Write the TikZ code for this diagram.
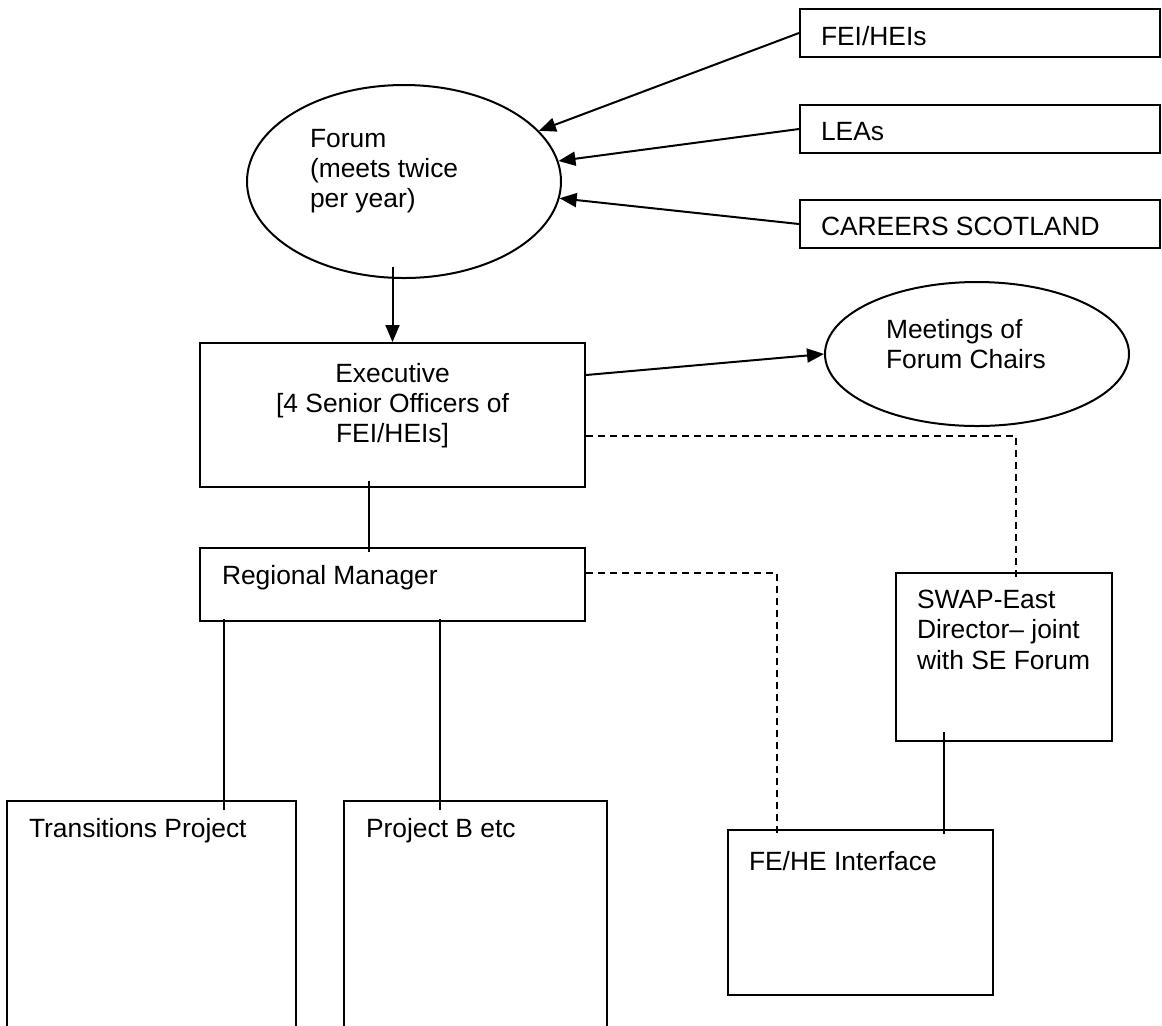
\documentclass[tikz,border=0pt]{standalone}
\usepackage{fontspec}
\setmainfont{Liberation Sans}
\usetikzlibrary{arrows.meta,calc,shapes.geometric}
\begin{document}
\begin{tikzpicture}[x=0.5pt, y=-0.5pt, line width=1pt,
    font=\fontsize{13.2}{15.2}\selectfont,
    box/.style={draw, rectangle, inner sep=0pt},
    oval/.style={draw, ellipse, inner sep=0pt},
    txt/.style={inner sep=0pt, anchor=north west, align=left},
    arr/.style={-{Triangle[length=8.5pt, width=7pt]}},
    dsh/.style={dash pattern=on 3.5pt off 2.5pt}]
    \useasboundingbox (0, 0) rectangle (1162, 1025);
    \clip (0, 0) rectangle (1162, 1025);

    \node[box, minimum width=180pt, minimum height=24pt] (fei) at (980, 33) {};
    \node[box, minimum width=180pt, minimum height=24pt] (lea) at (980, 129) {};
    \node[box, minimum width=180pt, minimum height=24pt] (car) at (980, 224) {};
    \node[txt] (feit) at ($(fei.north west)+(21, 17)$) {FEI/HEIs};
    \node[txt] (leat) at ($(lea.north west)+(21, 17)$) {LEAs};
    \node[txt] (cart) at ($(car.north west)+(21, 17)$) {CAREERS SCOTLAND};

    \node[oval, minimum width=157pt, minimum height=96.5pt] (forum) at (404, 181.5) {};
    \node[txt] (forumt) at ($(forum.center)+(-95, -53.5)$) {Forum\\(meets twice\\per year)};

    \node[box, minimum width=192.5pt, minimum height=72pt] (exec) at (392.5, 415) {};
    \node[txt, anchor=north, align=center] (exect) at ($(exec.north)+(0, 20)$)
        {Executive\\{}[4 Senior Officers of\\FEI/HEIs]};

    \node[oval, minimum width=152pt, minimum height=72pt] (meet) at (977, 354) {};
    \node[txt] (meett) at ($(meet.center)+(-92, -36)$) {Meetings of\\Forum Chairs};

    \node[box, minimum width=192.5pt, minimum height=36.5pt] (reg) at (392.5, 584.5) {};
    \node[txt] (regt) at ($(reg.north west)+(22, 17)$) {Regional Manager};

    \node[box, minimum width=108pt, minimum height=84pt] (swap) at (1004, 657) {};
    \node[txt] (swapt) at ($(swap.north west)+(21, 17)$) {SWAP-East\\Director– joint\\with SE Forum};

    \node[box, minimum width=144.5pt, minimum height=119.5pt] (trans) at (151.5, 920.5) {};
    \node[txt] (transt) at ($(trans.north west)+(22, 17)$) {Transitions Project};
    \node[box, minimum width=131.5pt, minimum height=119.5pt] (projb) at (475.5, 920.5) {};
    \node[txt] (projbt) at ($(projb.north west)+(22, 17)$) {Project B etc};
    \node[box, minimum width=132.5pt, minimum height=82.5pt] (fehe) at (860.5, 912.5) {};
    \node[txt] (fehet) at ($(fehe.north west)+(21, 21)$) {FE/HE Interface};

    \draw[arr] (fei.west) -- (forum);
    \draw[arr] (lea.west) -- (forum);
    \draw[arr] (car.west) -- (forum);
    \draw[arr] ($(exec.north)+(0, -75)$) -- (exec.north);
    \draw[arr] ($(exec.east)+(0, -40)$) -- (meet.west);
    \draw ($(exec.south)+(-24, -7)$) -- ($(reg.north)+(-24, 5)$);
    \draw[dsh] ($(exec.east)+(0, 21)$) -| ($(swap.north)+(12, 7)$);
    \draw[dsh] ($(reg.east)+(0, -12)$) -| ($(fehe.north)+(-84, 7)$);
    \draw ($(swap.south)+(-60, -10)$) -- ($(fehe.north)+(83.5, 5)$);
    \draw ($(reg.south)+(-168.5, -3)$) -- ($(trans.north)+(72.5, 10)$);
    \draw ($(reg.south)+(47.5, -3)$) -- ($(projb.north)+(-35.5, 10)$);
\end{tikzpicture}
\end{document}
